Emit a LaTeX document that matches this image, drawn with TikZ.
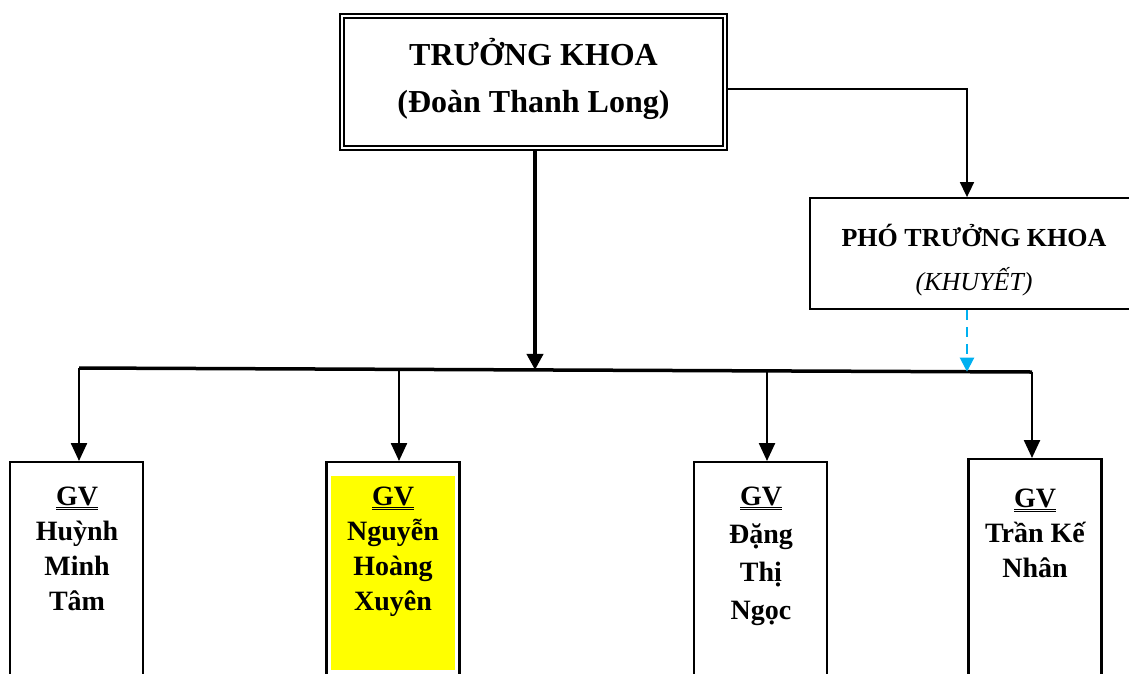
\documentclass[tikz,border=0pt]{standalone}
\usepackage{fontspec}
\setmainfont{Liberation Serif}
\usetikzlibrary{arrows.meta}

\definecolor{vacantBlue}{RGB}{0,176,240}
\definecolor{markYellow}{RGB}{255,255,0}
\newcommand{\gvHead}{\underline{\underline{GV}}}

\begin{document}
\begin{tikzpicture}[
    x=1pt, y=-1pt,
    deanBox/.style={draw, double, line width=2pt, double distance=2.5pt,
        minimum width=383pt, minimum height=132pt, inner sep=0pt},
    viceBox/.style={draw, line width=1.8pt, minimum width=327pt, minimum height=111pt, inner sep=0pt},
    staffBox/.style={draw, line width=2.2pt, minimum width=133pt, minimum height=240pt,
        inner sep=0pt, anchor=north},
    staffText/.style={anchor=base, align=center, inner sep=0pt,
        font=\fontsize{28}{35}\selectfont\bfseries},
    mainArrow/.style={line width=4pt, -{Triangle[length=16pt, width=16pt]}},
    linkArrow/.style={line width=1.6pt, -{Triangle[length=15pt, width=14pt]}},
    downArrow/.style={line width=2.4pt, -{Triangle[length=18pt, width=16pt]}},
    vacantArrow/.style={vacantBlue, line width=2.2pt, dash pattern=on 10pt off 7pt,
        -{Triangle[length=14pt, width=14pt]}},
    every node/.style={
        text centered,
        }
        ]
    \clip (0, 0) rectangle (1129, 673);

    % dean and vice dean (base = last line)
    \node[deanBox] (dean) at (533.5, 82) {};
    \node[anchor=base, align=center, inner sep=0pt,
        font=\fontsize{32}{47}\selectfont\bfseries] (deanText) at (533.5, 112)
        {TRƯỞNG KHOA\\(Đoàn Thanh Long)};

    \node[viceBox] (vice) at (973.5, 253.5) {};
    \node[anchor=base, align=center, inner sep=0pt,
        font=\fontsize{26}{44}\selectfont\bfseries] (viceText) at (974, 290)
        {PHÓ TRƯỞNG KHOA\\{\mdseries\itshape (KHUYẾT)}};

    % lecturers
    \node[staffBox] (gv1) at (76.5, 461) {};
    \node[staffBox] (gv2) at (393, 461) {};
    \node[staffBox] (gv3) at (760.5, 461) {};
    \node[staffBox] (gv4) at (1035, 458) {};

    \fill[markYellow] (331, 476) rectangle (455, 670);

    \node[staffText] (gv1Text) at (77, 610) {\gvHead\\Huỳnh\\Minh\\Tâm};
    \node[staffText] (gv2Text) at (393, 610) {\gvHead\\Nguyễn\\Hoàng\\Xuyên};
    \node[staffText, font=\fontsize{28}{38}\selectfont\bfseries] (gv3Text) at (761, 619) {\gvHead\\Đặng\\Thị\\Ngọc};
    \node[staffText] (gv4Text) at (1035, 577) {\gvHead\\Trần Kế\\Nhân};

    % bus line
    \coordinate (busL) at (79, 368);
    \coordinate (busR) at (1032, 372);
    \coordinate (jMain) at (535, 369.9);
    \coordinate (jVice) at (967, 371.7);
    \coordinate (j2) at (399, 369.3);
    \coordinate (j3) at (767, 370.9);

    \draw[line width=3.5pt] (busL) -- (busR);

    \draw[mainArrow] (dean.south -| jMain) -- (jMain);
    \draw[linkArrow] ([yshift=-7pt]dean.east) -| (jVice |- vice.north);
    \draw[vacantArrow] (vice.south -| jVice) -- (jVice);

    \draw[downArrow] (busL) -- (busL |- gv1.north);
    \draw[downArrow] (j2) -- (j2 |- gv2.north);
    \draw[downArrow] (j3) -- (j3 |- gv3.north);
    \draw[downArrow] (busR) -- (busR |- gv4.north);
\end{tikzpicture}
\end{document}
